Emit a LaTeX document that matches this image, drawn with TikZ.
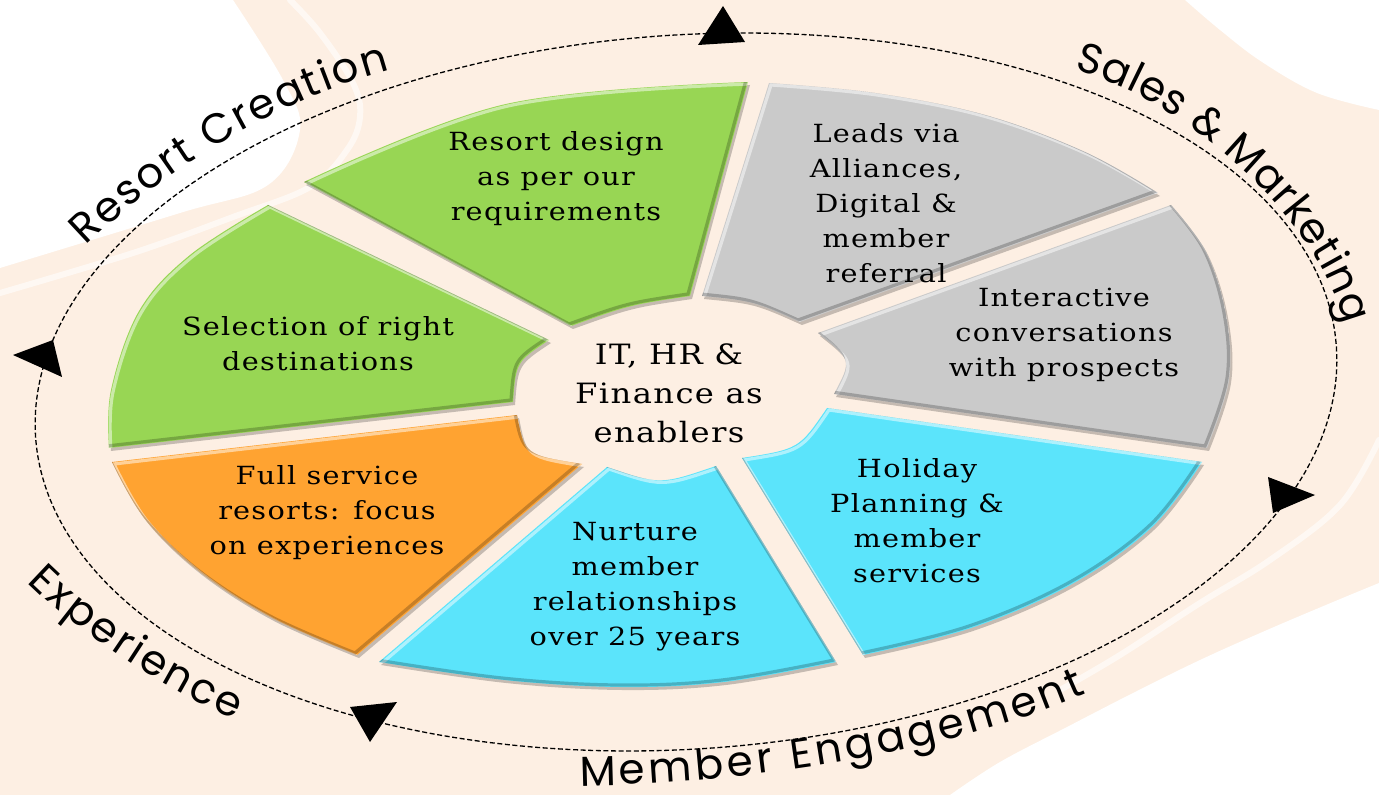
\documentclass[tikz,border=0pt]{standalone}
\usepackage{fontspec}
\setmainfont{DejaVu Serif}
\newfontfamily\innerfont[FakeStretch=1.15,LetterSpace=5]{DejaVu Serif}
\newfontfamily\lblfont{Poppins}
\usetikzlibrary{decorations.text}
\definecolor{peach}{HTML}{FDEFE3}
\definecolor{grn}{HTML}{98D654}
\definecolor{gry}{HTML}{CACACA}
\definecolor{cyn}{HTML}{5BE4FB}
\definecolor{org}{HTML}{FFA331}
\newcommand\sRD{(304,182) -- plot[smooth,tension=0.6] coordinates {(304,182) (506,104) (748,82)} -- (690,296) .. controls (629.5,305) .. (571,326) -- cycle}
\newcommand\sLD{(769,83) -- plot[smooth,tension=0.6] coordinates {(769,83) (875,93) (985,115) (1085,152) (1158,193)} -- (800,322) .. controls (753,301) .. (702,296) -- cycle}
\newcommand\sIC{(1171,205) -- plot[smooth,tension=0.6] coordinates {(1171,205) (1206,252) (1226,315) (1229,380) (1207,448)} -- (834,394) .. controls (852,360) .. (818,333) -- cycle}
\newcommand\sHP{(1202,462) -- plot[smooth,tension=0.6] coordinates {(1202,462) (1152,527) (1072,584) (971,628) (863,655)} -- (742,458) .. controls (799,449) .. (827,408) -- cycle}
\newcommand\sNM{(836,662) -- plot[smooth,tension=0.6] coordinates {(836,662) (724,682) (620,687) (504,680) (379,662)} -- (607,467) .. controls (660,485) .. (716,466) -- cycle}
\newcommand\sFS{(357,655) -- plot[smooth,tension=0.6] coordinates {(357,655) (272,618) (200,572) (145,519) (112,462)} -- (517,415) .. controls (525,455) .. (582,464) -- cycle}
\newcommand\sSR{(109,448) -- plot[smooth,tension=0.6] coordinates {(109,448) (111,390) (139,311) (190,255) (268,205)} -- (549,340) .. controls (516,362) .. (513,402) -- cycle}
\newcommand\drawsector[2]{%
  \fill[black,opacity=0.22,shift={(2,3)}] #2;
  \fill[#1] #2;
  \begin{scope}
    \clip #2;
    \draw[white,opacity=0.5,line width=1.6pt,shift={(2,2)}] #2;
    \draw[black,opacity=0.22,line width=1.6pt,shift={(-2,-2)}] #2;
  \end{scope}}
\begin{document}
\begin{tikzpicture}[x=0.5pt,y=-0.5pt,
  txt/.style={font=\innerfont\fontsize{12.5}{17.5}\selectfont, align=center, inner sep=0pt},
  streak/.style={white, line width=3pt, opacity=0.6, line cap=round},
  arrowtri/.style={fill=black}]
\useasboundingbox (0,0) rectangle (1379,795);
% background
\fill[peach] (0,0) rectangle (1379,795);
\fill[white] (0,0) -- (233,0) -- plot[smooth,tension=0.6] coordinates {(233,0) (283,80) (300,130) (268,185) (180,213) (0,268)} -- cycle;
\fill[white] (1185,0) -- (1379,0) -- (1379,110) -- plot[smooth,tension=0.6] coordinates {(1379,110) (1317,93) (1262,62) (1220,30) (1185,0)} -- cycle;
\fill[white] (950,795) -- plot[smooth,tension=0.6] coordinates {(950,795) (1000,762) (1067,727) (1133,693) (1200,660) (1267,630) (1333,602) (1379,583)} -- (1379,795) -- cycle;
\draw[streak] plot[smooth,tension=0.6] coordinates {(290,0) (320,33) (353,83) (360,117) (347,150) (310,187) (233,217) (133,253) (0,293)};
\draw[streak] plot[smooth,tension=0.6] coordinates {(1379,440) (1340,505) (1270,560) (1200,603) (1120,655) (1060,690)};
% dashed cycle
\draw[black, line width=0.65pt, dash pattern=on 2.5pt off 1.3pt] plot[domain=0:360, samples=145, smooth] ({686+650.4*cos(\x)+24.9*sin(\x)}, {392-45.5*cos(\x)+356.1*sin(\x)});
% arrows
\fill[arrowtri] (723,6) -- (698,45) -- (745,42) -- cycle;
\fill[arrowtri] (13,355) -- (53,340) -- (62,377) -- cycle;
\fill[arrowtri] (1315,495) -- (1268,477) -- (1273,513) -- cycle;
\fill[arrowtri] (370,742) -- (350,707) -- (397,702) -- cycle;
% sectors
\drawsector{grn}{\sRD}
\drawsector{gry}{\sLD}
\drawsector{gry}{\sIC}
\drawsector{cyn}{\sHP}
\drawsector{cyn}{\sNM}
\drawsector{org}{\sFS}
\drawsector{grn}{\sSR}
% texts
\node[txt] (trd) at (556,179) {Resort design\\as per our\\requirements};
\node[txt] (tld) at (886,203) {Leads via\\Alliances,\\Digital \&\\member\\referral};
\node[txt] (tic) at (1064,335) {Interactive\\conversations\\with prospects};
\node[txt] (thp) at (917,521) {Holiday\\Planning \&\\member\\services};
\node[txt] (tnm) at (635,587) {Nurture\\member\\relationships\\over 25 years};
\node[txt] (tfs) at (327,513) {Full service\\resorts: focus\\on experiences};
\node[txt] (tsr) at (318,344) {Selection of right\\destinations};
\node[txt, font=\innerfont\fontsize{14}{19.5}\selectfont] (tc) at (669,393) {IT, HR \&\\Finance as\\enablers};
% outer labels
\coordinate (rc1) at (86,246); \coordinate (rc2) at (390,70);
\coordinate (sm1) at (1074,70); \coordinate (sm2) at (1345,325);
\coordinate (ex1) at (27,582); \coordinate (ex2) at (236,719);
\coordinate (me1) at (580,786); \coordinate (me2) at (1086,693);
\path[decorate, decoration={text along path, text align=fit to path, text={|\lblfont\fontsize{21}{25}\selectfont|Resort Creation}}] (rc1) .. controls (172,163) and (280,100) .. (rc2);
\path[decorate, decoration={text along path, text align=fit to path, text={|\lblfont\fontsize{21}{25}\selectfont|Sales {\&} Marketing}}] (sm1) .. controls (1180,97) and (1318,215) .. (sm2);
\path[decorate, decoration={text along path, text align=fit to path, text={|\lblfont\fontsize{21}{25}\selectfont|Experience}}] (ex1) .. controls (77,632) and (170,694) .. (ex2);
\path[decorate, decoration={text along path, text align=fit to path, text={|\lblfont\fontsize{21}{25}\selectfont|Member Engagement}}] (me1) .. controls (760,783) and (960,750) .. (me2);
\end{tikzpicture}
\end{document}
